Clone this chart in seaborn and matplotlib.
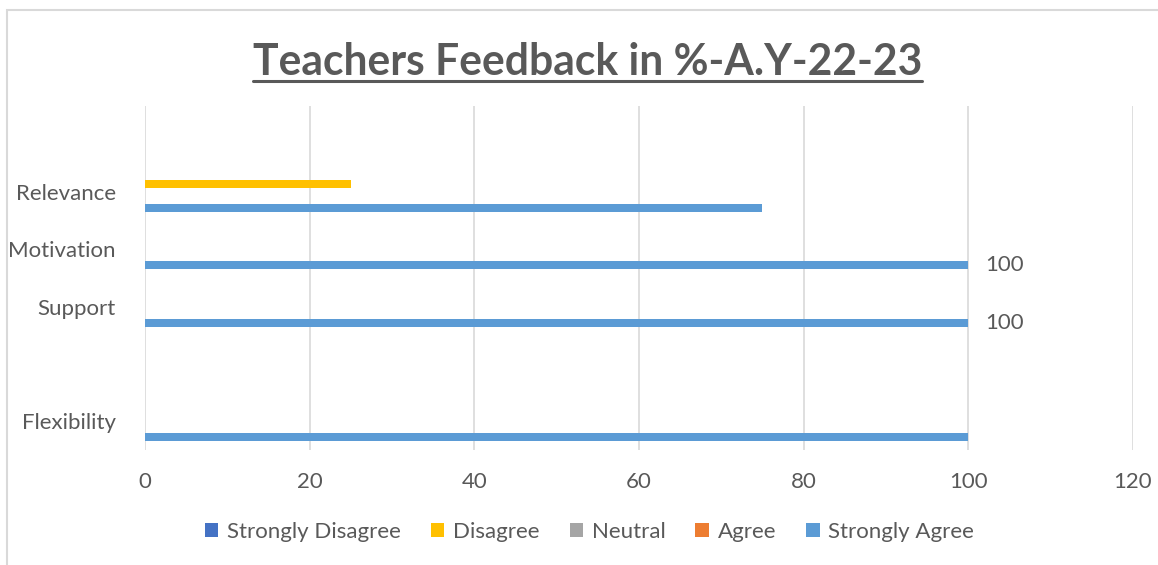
import numpy as np
import pandas as pd
import matplotlib
matplotlib.use("Agg")
import matplotlib.pyplot as plt
import matplotlib.patches as mpatches
from matplotlib.lines import Line2D
import seaborn as sns

# ---------------- data ----------------
categories = [" ", "Relevance", "Motivation", "Support", "  ", "Flexibility"]
series = ["Strongly Disagree", "Disagree", "Neutral", "Agree", "Strongly Agree"]
strongly_disagree = [0, 0, 0, 0, 0, 0]
disagree = [0, 25, 0, 0, 0, 0]
neutral = [0, 0, 0, 0, 0, 0]
agree = [0, 0, 0, 0, 0, 0]
strongly_agree = [0, 75, 100, 100, 0, 100]
strongly_agree_labels = ["", "", "100", "100", "", ""]
x_ticks = [0, 20, 40, 60, 80, 100, 120]
title = "Teachers Feedback in %-A.Y-22-23"
colors = ["#4472C4", "#FFC000", "#A5A5A5", "#ED7D31", "#5B9BD5"]

values = [strongly_disagree, disagree, neutral, agree, strongly_agree]
rows = []
for s, vals in zip(series, values):
    for c, v in zip(categories, vals):
        rows.append({"category": c, "series": s, "value": v})
df = pd.DataFrame(rows)

# ---------------- style ----------------
sns.set_theme(style="white")
plt.rcParams["font.family"] = ["Lato", "DejaVu Sans"]
text_color = "#595959"
fs = 16

W, H = 1158, 565
fig = plt.figure(figsize=(W / 100, H / 100), dpi=100)
fig.patch.set_facecolor("white")

ax = fig.add_axes([145 / W, 1 - 450 / H, (1133 - 145) / W, (450 - 106) / H])
sns.barplot(data=df, x="value", y="category", hue="series", order=categories,
            hue_order=series, palette=colors, orient="h", width=0.7,
            saturation=1, errorbar=None, linewidth=0, ax=ax)

ax.set_xlim(0, 120)
ax.set_ylim(len(categories) - 0.5, -0.5)
ax.set_xticks(x_ticks)
ax.set_xticklabels([str(t) for t in x_ticks])
ax.set_xlabel("")
ax.set_ylabel("")
for sp in ax.spines.values():
    sp.set_visible(False)
ax.grid(axis="x", color="#D9D9D9", linewidth=1.2)
ax.grid(axis="y", visible=False)
ax.set_axisbelow(True)
ax.tick_params(axis="x", length=0, pad=16, labelsize=fs, labelcolor=text_color)
ax.tick_params(axis="y", length=0, pad=21, labelsize=fs, labelcolor=text_color)

# data labels on Strongly Agree bars
sa_container = ax.containers[series.index("Strongly Agree")]
ax.bar_label(sa_container, labels=strongly_agree_labels, padding=12,
             fontsize=fs, color=text_color)

# legend
sns.move_legend(ax, "center", bbox_to_anchor=(589.5 / W, 1 - 532 / H),
                bbox_transform=fig.transFigure, ncol=5, frameon=False,
                title=None, fontsize=fs, handlelength=0.6, handleheight=0.6,
                handletextpad=0.4, columnspacing=1.35)
for t in ax.get_legend().get_texts():
    t.set_color(text_color)

# title with underline
t = fig.text(587.5 / W, 1 - 75 / H, title, ha="center", va="baseline",
             fontsize=30.7, fontweight="bold", color=text_color)
fig.canvas.draw()
bb = t.get_window_extent()
uy = 1 - 81 / H
fig.add_artist(Line2D([bb.x0 / W, bb.x1 / W], [uy, uy], transform=fig.transFigure,
                      color=text_color, linewidth=2.2))

# chart area border
fig.add_artist(mpatches.Rectangle((7.5 / W, -0.1), 1.2, 1.1 - 9.5 / H,
                                  transform=fig.transFigure, fill=False,
                                  edgecolor="#D9D9D9", linewidth=1.5))

fig.savefig("out.png", dpi=100)
